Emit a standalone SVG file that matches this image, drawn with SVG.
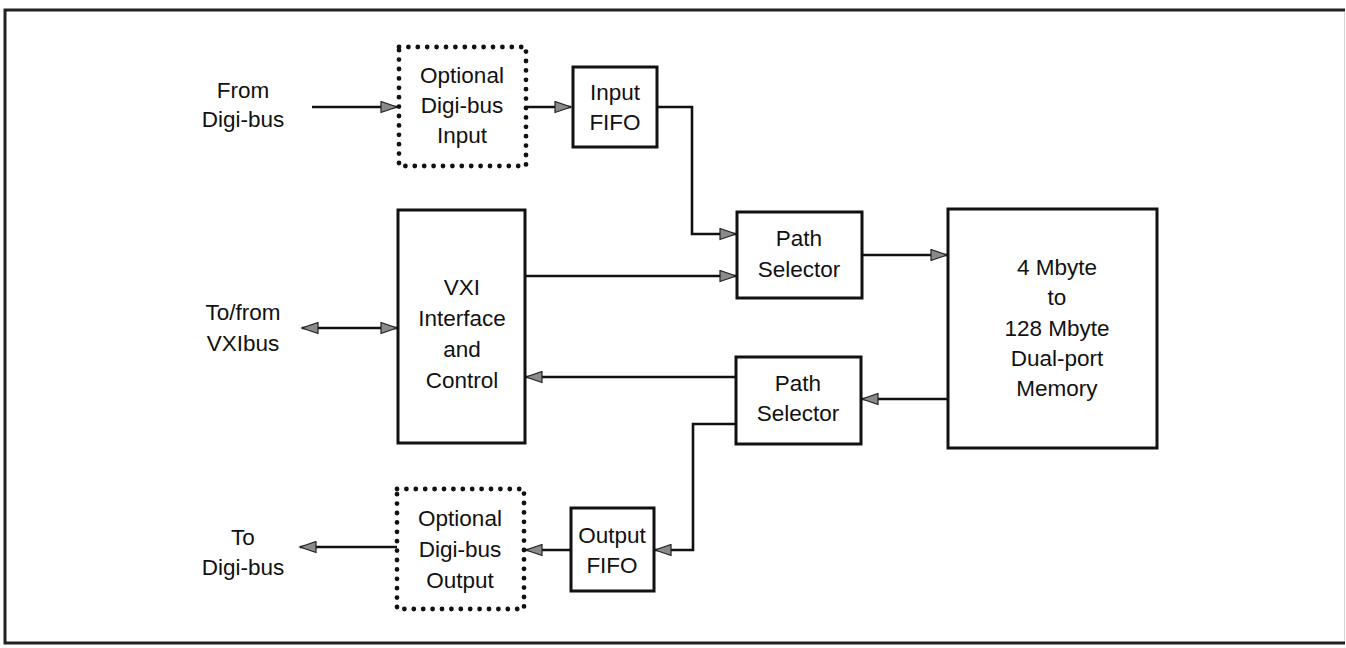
<svg xmlns="http://www.w3.org/2000/svg" width="1346" height="648" viewBox="0 0 1346 648">
<style>
text{font-family:"Liberation Sans",Arial,sans-serif;font-size:22.5px;fill:#111;text-anchor:middle}
.box{fill:#fff;stroke:#111;stroke-width:3}
.dot{fill:none;stroke:#111;stroke-width:4.8;stroke-linecap:round;stroke-dasharray:0 9.4}
.ln{fill:none;stroke:#111;stroke-width:2.6}
.ar{marker-end:url(#ah)}
</style>
<defs>
<marker id="ah" markerUnits="userSpaceOnUse" markerWidth="19" markerHeight="13" refX="17" refY="6.5" orient="auto-start-reverse" viewBox="0 0 19 13">
<path d="M1,1 L17,6.5 L1,12 Z" fill="#8a8a8a" stroke="#222" stroke-width="1.2"/>
</marker>
</defs>
<rect x="5" y="10" width="1338" height="633" fill="#fff" stroke="none"/>
<path d="M1344.5,12 L1344.5,643" stroke="#d4d4d4" stroke-width="1" fill="none"/>
<path d="M1345,10 L5,10 L5,643 L1345,643" stroke="#222" stroke-width="3" fill="none"/>
<g id="connectors">
<path class="ln ar" d="M312,107 L397,107"/>
<path class="ln ar" d="M527,107 L571,107"/>
<path class="ln ar" d="M657,107 L692,107 L692,234 L736,234"/>
<path class="ln ar" d="M525,276 L736,276"/>
<path class="ln ar" d="M862,255 L947,255"/>
<path class="ln ar" d="M948,399 L862,399"/>
<path class="ln ar" d="M736,377 L526,377"/>
<path class="ln ar" d="M736,424 L693,424 L693,550 L655,550"/>
<path class="ln ar" d="M571,550 L526,550"/>
<path class="ln ar" d="M397,547 L300,547"/>
<path class="ln" style="marker-start:url(#ah);marker-end:url(#ah)" d="M302,328 L397,328"/>
</g>
<g id="label-from">
<text x="243" y="98">From</text>
<text x="243" y="127">Digi-bus</text>
</g>
<g id="opt-input">
<rect class="dot" x="399" y="47" width="127" height="119"/>
<text x="462" y="83">Optional</text>
<text x="462" y="113">Digi-bus</text>
<text x="462" y="143">Input</text>
</g>
<g id="input-fifo">
<rect class="box" x="573" y="67" width="84" height="80"/>
<text x="615" y="100">Input</text>
<text x="615" y="130">FIFO</text>
</g>
<g id="label-vxibus">
<text x="243" y="320">To/from</text>
<text x="243" y="351">VXIbus</text>
</g>
<g id="vxi">
<rect class="box" x="398" y="210" width="127" height="233"/>
<text x="462" y="295">VXI</text>
<text x="462" y="326">Interface</text>
<text x="462" y="357">and</text>
<text x="462" y="388">Control</text>
</g>
<g id="path-sel-1">
<rect class="box" x="737" y="212" width="125" height="86"/>
<text x="799" y="246">Path</text>
<text x="799" y="277">Selector</text>
</g>
<g id="path-sel-2">
<rect class="box" x="736" y="357" width="125" height="87"/>
<text x="798" y="391">Path</text>
<text x="798" y="421">Selector</text>
</g>
<g id="memory">
<rect class="box" x="948" y="209" width="209" height="239"/>
<text x="1057" y="275">4 Mbyte</text>
<text x="1057" y="305">to</text>
<text x="1057" y="336">128 Mbyte</text>
<text x="1057" y="366">Dual-port</text>
<text x="1057" y="396">Memory</text>
</g>
<g id="output-fifo">
<rect class="box" x="571" y="508" width="83" height="83"/>
<text x="612" y="543">Output</text>
<text x="612" y="573">FIFO</text>
</g>
<g id="opt-output">
<rect class="dot" x="397" y="489" width="127" height="120"/>
<text x="460" y="526">Optional</text>
<text x="460" y="557">Digi-bus</text>
<text x="460" y="588">Output</text>
</g>
<g id="label-to">
<text x="243" y="545">To</text>
<text x="243" y="575">Digi-bus</text>
</g>
</svg>
